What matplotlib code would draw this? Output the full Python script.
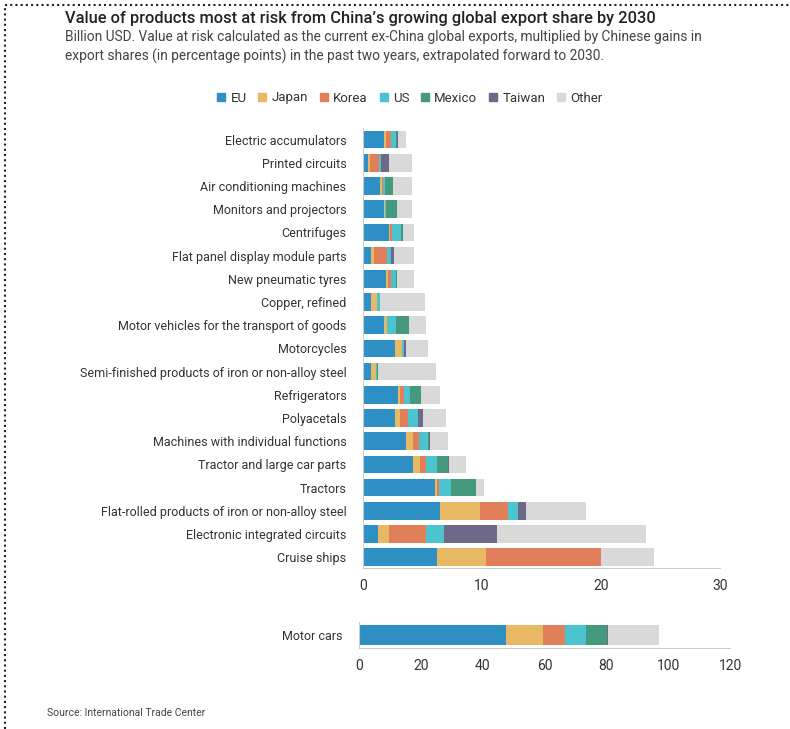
import numpy as np
import matplotlib
matplotlib.use("Agg")
from matplotlib import pyplot as plt
from matplotlib.lines import Line2D

plt.rcParams['font.family'] = ['Roboto', 'DejaVu Sans']

# data (billion USD)
products = ["Electric accumulators", "Printed circuits", "Air conditioning machines",
            "Monitors and projectors", "Centrifuges", "Flat panel display module parts",
            "New pneumatic tyres", "Copper, refined", "Motor vehicles for the transport of goods",
            "Motorcycles", "Semi-finished products of iron or non-alloy steel", "Refrigerators",
            "Polyacetals", "Machines with individual functions", "Tractor and large car parts",
            "Tractors", "Flat-rolled products of iron or non-alloy steel",
            "Electronic integrated circuits", "Cruise ships"]
eu = [1.76, 0.42, 1.40, 1.74, 2.16, 0.70, 1.96, 0.70, 1.74, 2.66, 0.64, 2.94, 2.72, 3.59, 4.20, 6.02, 6.44, 1.26, 6.22]
japan = [0.14, 0.20, 0.17, 0.10, 0.14, 0.20, 0.17, 0.48, 0.28, 0.64, 0.42, 0.14, 0.36, 0.62, 0.62, 0.20, 3.42, 0.90, 4.15]
korea = [0.42, 0.73, 0.10, 0.00, 0.14, 1.12, 0.25, 0.00, 0.00, 0.00, 0.00, 0.36, 0.70, 0.50, 0.45, 0.17, 2.32, 3.17, 9.66]
us = [0.48, 0.20, 0.22, 0.10, 0.78, 0.36, 0.42, 0.22, 0.73, 0.14, 0.10, 0.53, 0.84, 0.76, 0.98, 1.04, 0.84, 1.46, 0.00]
mexico = [0.08, 0.00, 0.67, 0.92, 0.14, 0.00, 0.05, 0.00, 1.12, 0.00, 0.12, 0.92, 0.00, 0.10, 0.90, 2.10, 0.00, 0.00, 0.00]
taiwan = [0.06, 0.62, 0.00, 0.00, 0.00, 0.22, 0.00, 0.00, 0.00, 0.20, 0.00, 0.00, 0.42, 0.10, 0.08, 0.00, 0.70, 4.43, 0.00]
other = [0.70, 1.96, 1.54, 1.23, 0.90, 1.65, 1.43, 3.84, 1.46, 1.82, 4.82, 1.54, 1.96, 1.48, 1.46, 0.64, 5.04, 12.60, 4.43]

cars_label = "Motor cars"
cars = [47.4, 12.0, 7.3, 6.7, 6.7, 0.6, 16.3]  # EU, Japan, Korea, US, Mexico, Taiwan, Other

series_names = ["EU", "Japan", "Korea", "US", "Mexico", "Taiwan", "Other"]
colors = ["#2e8fc4", "#e8b865", "#e07f5a", "#4bc4cf", "#45997f", "#6e6889", "#d9d9d9"]

W, H = 790, 729
fig = plt.figure(figsize=(W / 100, H / 100), dpi=100)

def px_axes(left, top, right, bottom):
    return fig.add_axes([left / W, 1 - bottom / H, (right - left) / W, (bottom - top) / H])

# main chart
ax = px_axes(363, 128, 720, 568)
y = np.arange(len(products))
left = np.zeros(len(products))
for name, vals, c in zip(series_names, [eu, japan, korea, us, mexico, taiwan, other], colors):
    vals = np.array(vals)
    ax.barh(y, vals, left=left, height=0.76, color=c, label=name)
    left += vals
ax.set_ylim(18.47, -0.5)
ax.set_xlim(0, 30)
ax.set_xticks([0, 10, 20, 30])
ax.set_yticks(y)
ax.set_yticklabels(products)

# motor cars
ax2 = px_axes(359, 622, 730, 648)
lft = 0
for name, v, c in zip(series_names, cars, colors):
    ax2.barh(0, v, left=lft, height=1.0, color=c)
    lft += v
ax2.set_ylim(-0.65, 0.65)
ax2.set_xlim(0, 120)
ax2.set_xticks([0, 20, 40, 60, 80, 100, 120])
ax2.set_yticks([0])
ax2.set_yticklabels([cars_label])

for a in (ax, ax2):
    for s in ("top", "right"):
        a.spines[s].set_visible(False)
    a.spines["left"].set_color("#cccccc")
    a.spines["bottom"].set_color("#cccccc")
    a.tick_params(axis="both", length=0, labelsize=9, colors="#333333")
    a.tick_params(axis="x", labelsize=10, pad=8)
    a.tick_params(axis="y", pad=12)

# legend
handles = [plt.Rectangle((0, 0), 1, 1, color=c) for c in colors]
fig.legend(handles, series_names, loc="center", bbox_to_anchor=(410 / W, 1 - 98 / H),
           ncol=7, frameon=False, fontsize=9.5, handlelength=0.6, handleheight=0.6,
           handletextpad=0.4, columnspacing=0.9, labelcolor="#333333")

# titles
fig.text(65 / W, 1 - 18 / H, "Value of products most at risk from China\u2019s growing global export share by 2030",
         fontsize=11.8, fontweight="medium", color="#222222", va="center")
fig.text(65 / W, 1 - 47 / H,
         "Billion USD. Value at risk calculated as the current ex-China global exports, multiplied by Chinese gains in\n"
         "export shares (in percentage points) in the past two years, extrapolated forward to 2030.",
         fontsize=9.9, color="#444444", va="center", linespacing=1.4)
fig.text(47 / W, 1 - 713 / H, "Source: International Trade Center", fontsize=7.5, color="#444444", va="center")

# dotted frame on top and left
fig.add_artist(Line2D([5 / W, 1], [1 - 5 / H, 1 - 5 / H], transform=fig.transFigure,
                      color="#222222", lw=1.5, ls=(0, (1, 1.5))))
fig.add_artist(Line2D([5 / W, 5 / W], [0, 1 - 5 / H], transform=fig.transFigure,
                      color="#222222", lw=1.5, ls=(0, (1, 1.5))))

fig.savefig("out.png", dpi=100)
